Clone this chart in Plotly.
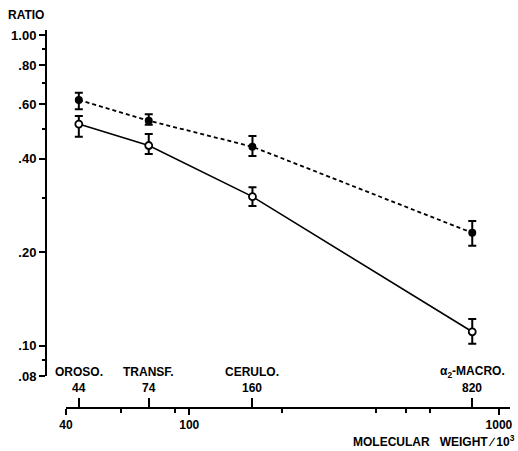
import plotly.graph_objects as go
import math

# ---- data ----
proteins = ["OROSO.", "TRANSF.", "CERULO.", "α<sub>2</sub>-MACRO."]
mw = [44, 74, 160, 820]
ratio_filled = [0.618, 0.530, 0.437, 0.231]
filled_hi = [0.652, 0.556, 0.473, 0.252]
filled_lo = [0.577, 0.514, 0.408, 0.210]
ratio_open = [0.517, 0.441, 0.302, 0.111]
open_hi = [0.549, 0.480, 0.324, 0.122]
open_lo = [0.471, 0.414, 0.282, 0.1015]

y_tickvals = [0.08, 0.10, 0.20, 0.40, 0.60, 0.80, 1.00]
y_ticktext = [".08", ".10", ".20", ".40", ".60", ".80", "1.00"]
y_minor = [0.09, 0.3, 0.5, 0.7, 0.9]
x_tickvals = [40, 100, 1000]
x_minor = [60, 90, 200, 400, 500, 600]

W, H = 518, 451
FONT = "Liberation Sans"

def err(v, hi, lo):
    return [h - a for a, h in zip(v, hi)], [a - l for a, l in zip(v, lo)]

fe_p, fe_m = err(ratio_filled, filled_hi, filled_lo)
oe_p, oe_m = err(ratio_open, open_hi, open_lo)

fig = go.Figure()
fig.add_trace(go.Scatter(
    x=mw, y=ratio_filled, mode="lines+markers",
    line=dict(color="black", width=1.8, dash="4px,3px"),
    marker=dict(symbol="circle", size=8, color="black"),
    error_y=dict(type="data", symmetric=False, array=fe_p, arrayminus=fe_m,
                 color="black", thickness=2, width=4),
    showlegend=False, hoverinfo="skip"))
fig.add_trace(go.Scatter(
    x=mw, y=ratio_open, mode="lines+markers",
    line=dict(color="black", width=1.6),
    marker=dict(symbol="circle", size=7, color="white",
                line=dict(color="black", width=1.8)),
    error_y=dict(type="data", symmetric=False, array=oe_p, arrayminus=oe_m,
                 color="black", thickness=2, width=4),
    showlegend=False, hoverinfo="skip"))
# invisible trace to activate the upward-tick axis
fig.add_trace(go.Scatter(x=mw, y=ratio_open, xaxis="x2", mode="markers",
                         marker=dict(opacity=0), showlegend=False, hoverinfo="skip"))

xr = [math.log10(40), math.log10(40) + 444 / 309.7]
yr = [math.log10(0.08), 0.016]
xpos = (H - 408) / H

fig.update_layout(
    width=W, height=H,
    margin=dict(l=0, r=0, t=0, b=0, autoexpand=False),
    paper_bgcolor="white", plot_bgcolor="white",
    font=dict(family=FONT, size=12, color="black", weight="bold"),
    xaxis=dict(type="log", range=xr, domain=[66 / W, 510 / W],
               anchor="free", position=xpos, automargin=False,
               showgrid=False, zeroline=False,
               showline=True, linecolor="black", linewidth=2,
               tickvals=x_tickvals, ticktext=[str(v) for v in x_tickvals],
               ticks="outside", ticklen=6, tickwidth=2, tickcolor="black",
               tickfont=dict(family=FONT, size=12, weight="bold"),
               minor=dict(tickvals=x_minor, ticks="outside", ticklen=4,
                          tickwidth=1.5, tickcolor="black")),
    xaxis2=dict(type="log", range=xr, domain=[66 / W, 510 / W],
                overlaying="x", side="top", anchor="free", position=xpos,
                automargin=False,
                showgrid=False, zeroline=False, showline=False,
                tickvals=mw, ticks="outside", ticklen=10, tickwidth=2,
                tickcolor="black", showticklabels=False),
    yaxis=dict(type="log", range=yr,
               domain=[(H - 376) / H, (H - 30) / H],
               anchor="free", position=46 / W, automargin=False,
               showgrid=False, zeroline=False,
               showline=True, linecolor="black", linewidth=2,
               tickvals=y_tickvals, ticktext=y_ticktext,
               ticks="outside", ticklen=6, tickwidth=2, tickcolor="black",
               tickfont=dict(family=FONT, size=13, weight="bold"),
               minor=dict(tickvals=y_minor, ticks="outside", ticklen=3,
                          tickwidth=1.5, tickcolor="black")),
)

annotations = [
    dict(text="RATIO", x=6 / W, y=(H - 15) / H, xref="paper", yref="paper",
         xanchor="left", yanchor="middle", showarrow=False,
         font=dict(family=FONT, size=12, weight="bold")),
    dict(text="MOLECULAR&nbsp;&nbsp;&nbsp;WEIGHT&nbsp;∕&nbsp;10<sup>3</sup>",
         x=517 / W, y=(H - 441) / H,
         xref="paper", yref="paper", xanchor="right", yanchor="middle",
         showarrow=False, font=dict(family=FONT, size=12, weight="bold")),
]
for name, m in zip(proteins, mw):
    annotations.append(dict(text=name, x=math.log10(m), y=(H - 372) / H,
                            xref="x", yref="paper", xanchor="center",
                            yanchor="middle", showarrow=False,
                            font=dict(family=FONT, size=12, weight="bold")))
    annotations.append(dict(text=str(m), x=math.log10(m), y=(H - 388) / H,
                            xref="x", yref="paper", xanchor="center",
                            yanchor="middle", showarrow=False,
                            font=dict(family=FONT, size=12, weight="bold")))
fig.update_layout(annotations=annotations)

fig.write_html("out.html",
               config={"displayModeBar": False},
               post_script="document.body.style.margin='0';document.body.style.overflow='hidden';")
